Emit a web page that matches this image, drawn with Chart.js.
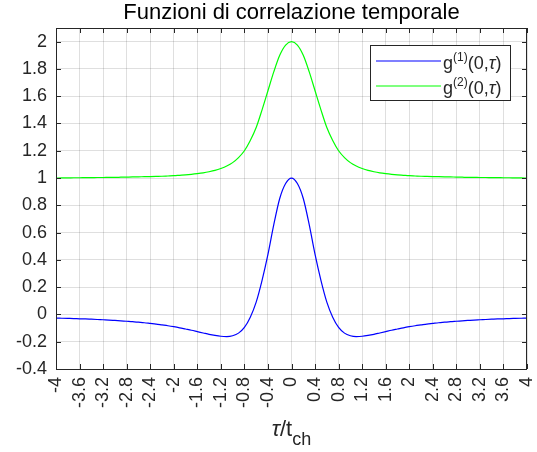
<!DOCTYPE html>
<html>
<head>
<meta charset="utf-8">
<script src="https://cdn.jsdelivr.net/npm/chart.js@4"></script>
<style>
  html, body { margin: 0; padding: 0; background: #fff; }
  #wrap { width: 537px; height: 452px; }
</style>
</head>
<body>
<div id="wrap"><canvas id="chart-0"></canvas></div>
<script>
const titleText = 'Funzioni di correlazione temporale'
const seriesNames = ['g(1)(0,τ)', 'g(2)(0,τ)']

const taus = [
  -4.0, -3.9, -3.8, -3.7, -3.6, -3.5, -3.4, -3.3, -3.2, -3.1,
  -3.0, -2.9, -2.8, -2.7, -2.6, -2.5, -2.4, -2.3, -2.2, -2.1,
  -2.0, -1.9, -1.8, -1.7, -1.6, -1.5, -1.4, -1.3, -1.2, -1.1,
  -1.0, -0.9, -0.8, -0.7, -0.6, -0.5, -0.4, -0.3, -0.2, -0.1,
  0.0,
  0.1, 0.2, 0.3, 0.4, 0.5, 0.6, 0.7, 0.8, 0.9, 1.0,
  1.1, 1.2, 1.3, 1.4, 1.5, 1.6, 1.7, 1.8, 1.9, 2.0,
  2.1, 2.2, 2.3, 2.4, 2.5, 2.6, 2.7, 2.8, 2.9, 3.0,
  3.1, 3.2, 3.3, 3.4, 3.5, 3.6, 3.7, 3.8, 3.9, 4.0
]

const g1 = [
  -0.027, -0.028, -0.029, -0.030, -0.032, -0.033, -0.035, -0.037, -0.039, -0.041,
  -0.044, -0.047, -0.050, -0.053, -0.057, -0.061, -0.066, -0.071, -0.077, -0.083,
  -0.090, -0.098, -0.107, -0.116, -0.126, -0.136, -0.146, -0.154, -0.160, -0.162,
  -0.156, -0.137, -0.095, -0.020, 0.090, 0.250, 0.440, 0.660, 0.850, 0.960,
  1.000,
  0.960, 0.850, 0.660, 0.440, 0.250, 0.090, -0.020, -0.095, -0.137, -0.156,
  -0.162, -0.160, -0.154, -0.146, -0.136, -0.126, -0.116, -0.107, -0.098, -0.090,
  -0.083, -0.077, -0.071, -0.066, -0.061, -0.057, -0.053, -0.050, -0.047, -0.044,
  -0.041, -0.039, -0.037, -0.035, -0.033, -0.032, -0.030, -0.029, -0.028, -0.027
]

const g2 = [
  1.000, 1.001, 1.001, 1.002, 1.002, 1.003, 1.003, 1.004, 1.004, 1.005,
  1.005, 1.006, 1.007, 1.008, 1.009, 1.010, 1.011, 1.012, 1.013, 1.015,
  1.017, 1.020, 1.023, 1.027, 1.032, 1.038, 1.046, 1.056, 1.070, 1.088,
  1.113, 1.150, 1.200, 1.275, 1.370, 1.500, 1.640, 1.780, 1.900, 1.975,
  2.000,
  1.975, 1.900, 1.780, 1.640, 1.500, 1.370, 1.275, 1.200, 1.150, 1.113,
  1.088, 1.070, 1.056, 1.046, 1.038, 1.032, 1.027, 1.023, 1.020, 1.017,
  1.015, 1.013, 1.012, 1.011, 1.010, 1.009, 1.008, 1.007, 1.006, 1.005,
  1.005, 1.004, 1.004, 1.003, 1.003, 1.002, 1.002, 1.001, 1.001, 1.000
]

const xTicks = [-4, -3.6, -3.2, -2.8, -2.4, -2, -1.6, -1.2, -0.8, -0.4, 0,
  0.4, 0.8, 1.2, 1.6, 2, 2.4, 2.8, 3.2, 3.6, 4]
const yTicks = [-0.4, -0.2, 0, 0.2, 0.4, 0.6, 0.8, 1, 1.2, 1.4, 1.6, 1.8, 2]

const colors = ['#0000ff', '#00ff00']
const axisColor = '#262626'
const gridColor = 'rgba(38,38,38,0.15)'
const fontFamily = "'Liberation Sans', Arial, sans-serif"

function fmt(v) {
  return String(Math.round(v * 10) / 10)
}

// title, box round the plot, inward tick marks, x label and legend
const framePlugin = {
  id: 'frame',
  afterDraw(chart) {
    const ctx = chart.ctx
    const a = chart.chartArea
    const xs = chart.scales.x
    const ys = chart.scales.y
    ctx.save()

    ctx.fillStyle = '#000'
    ctx.textAlign = 'center'
    ctx.textBaseline = 'alphabetic'
    ctx.font = '22px ' + fontFamily
    ctx.fillText(titleText, (a.left + a.right) / 2, 19)

    ctx.strokeStyle = axisColor
    ctx.lineWidth = 1
    ctx.strokeRect(Math.round(a.left) + 0.5, Math.round(a.top) + 0.5,
      Math.round(a.right - a.left) - 1, Math.round(a.bottom - a.top))
    ctx.beginPath()
    const tl = 5
    xTicks.forEach(v => {
      const px = Math.round(xs.getPixelForValue(v)) + 0.5
      ctx.moveTo(px, a.bottom); ctx.lineTo(px, a.bottom - tl)
      ctx.moveTo(px, a.top); ctx.lineTo(px, a.top + tl)
    })
    yTicks.forEach(v => {
      const py = Math.round(ys.getPixelForValue(v)) + 0.5
      ctx.moveTo(a.left, py); ctx.lineTo(a.left + tl, py)
      ctx.moveTo(a.right, py); ctx.lineTo(a.right - tl, py)
    })
    ctx.stroke()

    // x axis title: tau / t_ch
    ctx.fillStyle = axisColor
    ctx.textAlign = 'left'
    const fMain = '22px ' + fontFamily
    const fIt = 'italic 22px ' + fontFamily
    const fSub = '18px ' + fontFamily
    ctx.font = fIt
    const w1 = ctx.measureText('τ').width
    ctx.font = fMain
    const w2 = ctx.measureText('/t').width
    ctx.font = fSub
    const w3 = ctx.measureText('ch').width
    let x0 = (a.left + a.right) / 2 - (w1 + w2 + w3) / 2
    const by = 436
    ctx.font = fIt; ctx.fillText('τ', x0, by); x0 += w1
    ctx.font = fMain; ctx.fillText('/t', x0, by); x0 += w2
    ctx.font = fSub; ctx.fillText('ch', x0, by + 9)

    // legend
    const lx = 370, ly = 45, lw = 140, lh = 55
    ctx.fillStyle = '#fff'
    ctx.fillRect(lx, ly, lw, lh)
    ctx.strokeStyle = axisColor
    ctx.strokeRect(lx + 0.5, ly + 0.5, lw, lh)
    const rows = [
      { sup: '(1)', y: 61, color: colors[0] },
      { sup: '(2)', y: 86, color: colors[1] }
    ]
    rows.forEach(r => {
      ctx.strokeStyle = r.color
      ctx.lineWidth = 1.2
      ctx.beginPath()
      ctx.moveTo(376, r.y); ctx.lineTo(441, r.y)
      ctx.stroke()
      ctx.fillStyle = axisColor
      let tx = 443
      const base = r.y + 8
      ctx.font = '18px ' + fontFamily
      ctx.fillText('g', tx, base); tx += ctx.measureText('g').width
      ctx.font = '12px ' + fontFamily
      ctx.fillText(r.sup, tx, base - 8); tx += ctx.measureText(r.sup).width
      ctx.font = '18px ' + fontFamily
      ctx.fillText('(0,', tx, base); tx += ctx.measureText('(0,').width
      ctx.font = 'italic 18px ' + fontFamily
      ctx.fillText('τ', tx, base); tx += ctx.measureText('τ').width
      ctx.font = '18px ' + fontFamily
      ctx.fillText(')', tx, base)
    })
    ctx.restore()
  }
}

const config = {
  type: 'line',
  data: {
    datasets: [
      {
        label: seriesNames[0],
        data: taus.map((t, i) => ({ x: t, y: g1[i] })),
        borderColor: colors[0],
        borderWidth: 1.2,
        pointRadius: 0,
        fill: false,
        cubicInterpolationMode: 'monotone'
      },
      {
        label: seriesNames[1],
        data: taus.map((t, i) => ({ x: t, y: g2[i] })),
        borderColor: colors[1],
        borderWidth: 1.2,
        pointRadius: 0,
        fill: false,
        cubicInterpolationMode: 'monotone'
      }
    ]
  },
  options: {
    animation: false,
    responsive: true,
    maintainAspectRatio: false,
    layout: { padding: { left: 0, right: 10, top: 28, bottom: 0 } },
    scales: {
      x: {
        type: 'linear',
        min: -4,
        max: 4,
        afterBuildTicks: axis => { axis.ticks = xTicks.map(v => ({ value: v })) },
        afterFit: axis => {
          axis.height = 83
          axis.paddingLeft = 0
          axis.paddingRight = 0
        },
        grid: { color: gridColor, drawTicks: false },
        border: { display: false },
        ticks: {
          autoSkip: false,
          maxRotation: 90,
          minRotation: 90,
          padding: 8,
          color: axisColor,
          font: { family: fontFamily, size: 18 },
          callback: v => fmt(v)
        }
      },
      y: {
        min: -0.4,
        max: 2.1,
        afterBuildTicks: axis => { axis.ticks = yTicks.map(v => ({ value: v })) },
        afterFit: axis => {
          axis.width = 56
          axis.paddingTop = 0
          axis.paddingBottom = 0
        },
        grid: { color: gridColor, drawTicks: false },
        border: { display: false },
        ticks: {
          padding: 9,
          color: axisColor,
          font: { family: fontFamily, size: 18 },
          callback: v => fmt(v)
        }
      }
    },
    plugins: {
      legend: { display: false },
      tooltip: { enabled: false },
      title: { display: false }
    }
  },
  plugins: [framePlugin]
}

new Chart(document.getElementById('chart-0'), config)
</script>
</body>
</html>
